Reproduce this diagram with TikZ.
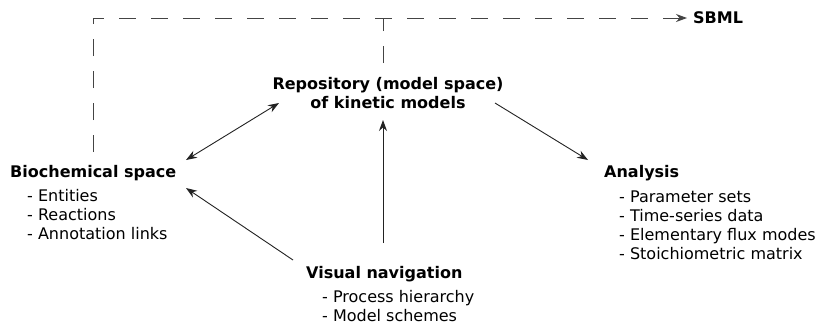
\documentclass[tikz,border=0pt]{standalone}
\usepackage{fontspec}
\setmainfont{DejaVu Sans}
\usetikzlibrary{arrows.meta,calc}
\definecolor{linkcol}{HTML}{222222}
\definecolor{dashcol}{HTML}{444444}
\begin{document}
\begin{tikzpicture}[x=1pt,y=-1pt,
  title/.style={inner sep=0pt, font=\fontsize{16}{19}\selectfont\bfseries},
  items/.style={inner sep=0pt, align=left, font=\fontsize{16}{19}\selectfont},
  link/.style={draw=linkcol, line width=0.9pt, -{Stealth[length=11pt,width=8pt]}},
  export/.style={draw=dashcol, line width=0.9pt, dash pattern=on 17pt off 15pt}]
\useasboundingbox (0,0) rectangle (819,325);

% text blocks (multi-line nodes are placed by the baseline of their last line)
\node[title, anchor=base west] (bio) at (10,177) {Biochemical space};
\node[items, anchor=base west] (bioitems) at (27,239.7) {- Entities\\- Reactions\\- Annotation links};

\node[title, anchor=base, align=center] (repo) at (388,108) {Repository (model space)\\of kinetic models};

\node[title, anchor=base west] (ana) at (604,177) {Analysis};
\node[items, anchor=base west] (anaitems) at (619,259.7) {- Parameter sets\\- Time-series data\\- Elementary flux modes\\- Stoichiometric matrix};

\node[title, anchor=base west] (nav) at (306,278) {Visual navigation};
\node[items, anchor=base west] (navitems) at (322,321.7) {- Process hierarchy\\- Model schemes};

\node[title, anchor=base west] (sbml) at (693,23) {SBML};

% solid connectors
\draw[link, {Stealth[length=11pt,width=8pt]}-{Stealth[length=11pt,width=8pt]}]
  ([shift={(176,-17)}]bio.base west) -- ([shift={(-109,-5)}]repo.base);
\draw[link] ([shift={(-13,-18)}]nav.base west) -- ([shift={(176,11)}]bio.base west);
\draw[link] ([shift={(77,-35)}]nav.base west) -- ([shift={(-5,12)}]repo.base);
\draw[link] ([shift={(107,-5)}]repo.base) -- ([shift={(-16,-17)}]ana.base west);

% dashed export to SBML
\coordinate (sbmltip) at ([shift={(-6,-5)}]sbml.base west);
\coordinate (tee) at ([shift={(-5,-45)}]repo.base);
\draw[export, -{Stealth[length=11pt,width=8pt]}] ([shift={(83,-25)}]bio.base west) |- (sbmltip);
\draw[export] (tee) -- (tee |- sbmltip);
\end{tikzpicture}
\end{document}
